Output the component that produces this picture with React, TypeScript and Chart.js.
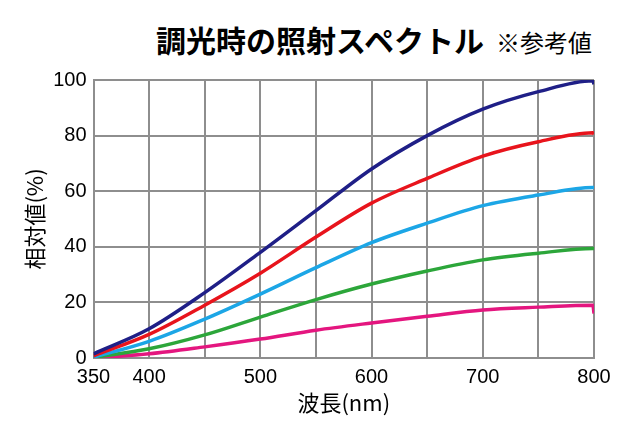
import React, { useEffect, useRef } from "react";
import { Chart, registerables } from "chart.js";

Chart.register(...registerables);

const wavelengths = [350, 400, 450, 500, 550, 600, 650, 700, 750, 799];
const tailWavelength = 800;
const navy = [1.5, 10.5, 23.5, 38, 53, 68, 80, 89.5, 95.8, 99.7];
const red = [0.8, 8.5, 19, 30.5, 43.5, 55.7, 64.6, 72.6, 77.8, 81];
const skyBlue = [0.3, 6, 14, 23, 32.5, 41.5, 48.5, 54.8, 58.6, 61.3];
const green = [0.2, 3.3, 8.3, 14.7, 21, 26.6, 31.3, 35.3, 37.7, 39.4];
const magenta = [0, 1.5, 4, 6.8, 10, 12.6, 15, 17.3, 18.3, 19];
const tailValues = [98.5, 80.6, 61.3, 39.4, 16];
const xTickLabels = [350, 400, 500, 600, 700, 800];
const yTicks = [0, 20, 40, 60, 80, 100];

const seriesList = [navy, red, skyBlue, green, magenta];
const colors = ["#1f1f87", "#e8141c", "#1ca6e6", "#2ca63a", "#e4167f"];

export default function App() {
  const ref = useRef<HTMLCanvasElement>(null);
  useEffect(() => {
    if (!ref.current) return;
    const datasets = seriesList.map((s, i) => ({
      data: [
        ...wavelengths.map((w, j) => ({ x: w, y: s[j] })),
        { x: tailWavelength, y: tailValues[i] },
      ],
      borderColor: colors[i],
      borderWidth: 3.5,
      pointRadius: 0,
      fill: false,
      cubicInterpolationMode: "monotone" as const,
    }));
    const chart = new Chart(ref.current, {
      type: "line",
      data: { datasets },
      options: {
        animation: false,
        responsive: false,
        maintainAspectRatio: false,
        layout: { padding: { left: 0, right: 46, top: 80, bottom: 0 } },
        plugins: { legend: { display: false }, tooltip: { enabled: false } },
        scales: {
          x: {
            type: "linear",
            min: 350,
            max: 800,
            afterFit: (s: any) => {
              s.height = 82;
            },
            ticks: {
              stepSize: 50,
              padding: 7,
              color: "#000",
              maxRotation: 0,
              autoSkip: false,
              font: { family: "'Liberation Sans', Arial, sans-serif", size: 20 },
              callback: (v: any) => (xTickLabels.includes(Number(v)) ? String(v) : ""),
            },
            grid: { color: "#8e8e8e", lineWidth: 2, drawTicks: false },
            border: { color: "#8e8e8e", width: 2 },
            title: {
              display: true,
              text: "波長(nm)",
              color: "#000",
              font: { family: "'Noto Sans CJK JP', sans-serif", size: 22 },
              padding: { top: 0, bottom: 24 },
            },
          },
          y: {
            type: "linear",
            min: 0,
            max: 100,
            afterFit: (s: any) => {
              s.width = 93.5;
            },
            ticks: {
              stepSize: 20,
              padding: 7,
              color: "#000",
              font: { family: "'Liberation Sans', Arial, sans-serif", size: 20 },
              callback: (v: any) => (yTicks.includes(Number(v)) ? String(v) : ""),
            },
            grid: { color: "#8e8e8e", lineWidth: 2, drawTicks: false },
            border: { color: "#8e8e8e", width: 2 },
            title: {
              display: true,
              text: "相対値(%)",
              color: "#000",
              font: { family: "'Noto Sans CJK JP', sans-serif", size: 22 },
              padding: { top: 21, bottom: 0 },
            },
          },
        },
      },
    });
    return () => chart.destroy();
  }, []);
  return (
    <div
      style={{
        position: "fixed",
        left: 0,
        top: 0,
        width: 640,
        height: 440,
        background: "#fff",
      }}
    >
      <div
        style={{
          position: "absolute",
          left: 156,
          top: 17,
          whiteSpace: "nowrap",
          fontFamily: "'Noto Sans CJK JP', sans-serif",
          color: "#000",
        }}
      >
        <span style={{ fontSize: 30, fontWeight: 700 }}>調光時の照射スペクトル</span>
        <span style={{ fontSize: 24, marginLeft: 12 }}>※参考値</span>
      </div>
      <canvas ref={ref} width={640} height={440} style={{ position: "absolute", left: 0, top: 0 }} />
    </div>
  );
}
